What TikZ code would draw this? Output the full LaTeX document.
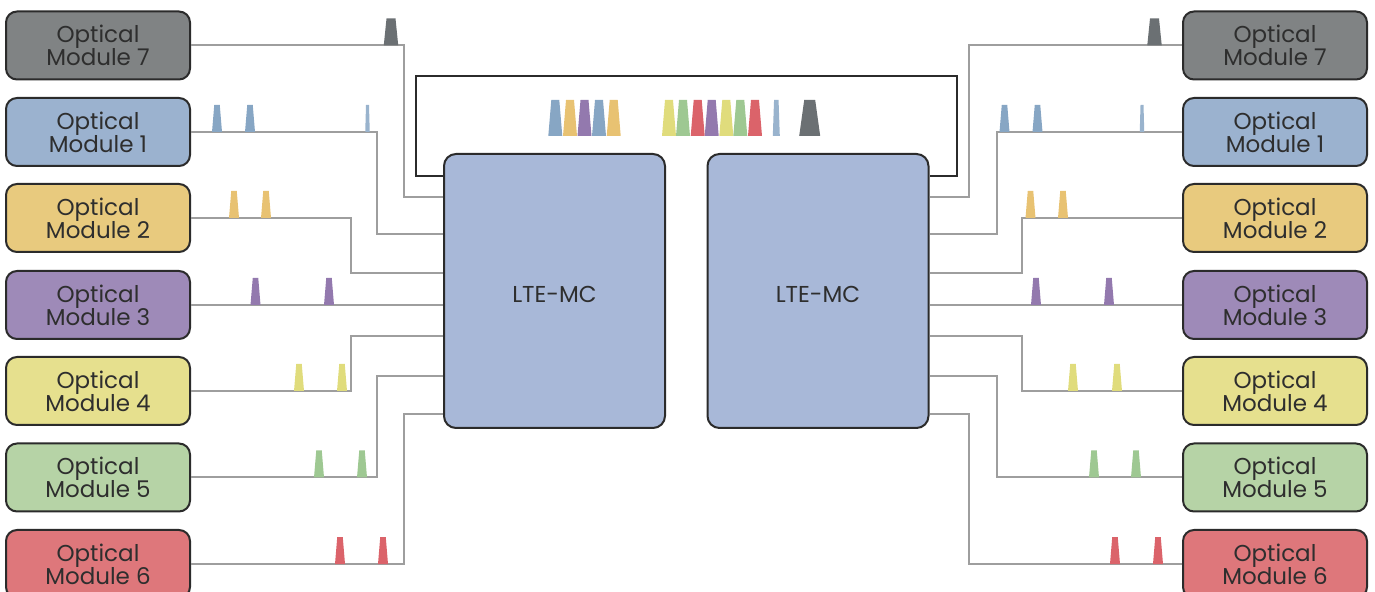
\documentclass[tikz,border=0pt]{standalone}
\usepackage{fontspec}
\setmainfont{Poppins}
\usetikzlibrary{calc}

\definecolor{edge}{HTML}{2B2B2B}
\definecolor{wire}{HTML}{9E9E9E}
\definecolor{label}{HTML}{2E2E2E}
\definecolor{mcfill}{HTML}{A8B8D8}
% module fills
\definecolor{mod7}{HTML}{808384}
\definecolor{mod1}{HTML}{9BB2CF}
\definecolor{mod2}{HTML}{E8CA7E}
\definecolor{mod3}{HTML}{9E8AB8}
\definecolor{mod4}{HTML}{E6E08E}
\definecolor{mod5}{HTML}{B6D3A6}
\definecolor{mod6}{HTML}{DE777B}
% pulse colours
\definecolor{pgrey}{HTML}{6B7073}
\definecolor{pblue}{HTML}{87A6C4}
\definecolor{pyellow}{HTML}{E8C272}
\definecolor{ppurple}{HTML}{9379AE}
\definecolor{plime}{HTML}{E0DC7C}
\definecolor{pgreen}{HTML}{9EC892}
\definecolor{pred}{HTML}{DB636A}

% colour, x, base y, height, bottom width, top width
\newcommand\fiberpulse[6]{%
  \fill[#1] ({#2-#5/2},#3) -- ({#2-#6/2},{#3-#4}) -- ({#2+#6/2},{#3-#4})
    -- ({#2+#5/2},#3) -- cycle;}

\begin{document}
\begin{tikzpicture}[x=0.5pt, y=-0.5pt,
	module/.style = { draw=edge, line width=1pt, rounded corners=5.5pt,
			minimum width=92pt, minimum height=34pt, inner sep=0pt,
			text=label, align=center,
			font=\fontsize{11.5}{11}\selectfont },
	mc/.style = { draw=edge, line width=1pt, rounded corners=6pt,
			fill=mcfill, minimum width=110.5pt, minimum height=137pt,
			text=label, text height=12pt, text depth=0pt,
			font=\fontsize{11.5}{12}\selectfont },
	fiber/.style = { draw=wire, line width=1pt },
	ring/.style = { draw=edge, line width=1pt }]

  \useasboundingbox (0,0) rectangle (1375,592);

  % modules on both sides
  \foreach \m/\y in {7/45.5, 1/132, 2/218, 3/305, 4/391, 5/477.5, 6/564} {
    \node[name=l\m, module, fill=mod\m] at (98,\y) {Optical\\[-1pt]Module \m};
    \node[name=r\m, module, fill=mod\m] at (1275,\y) {Optical\\[-1pt]Module \m};
  }

  \node[name=lteL, mc] at (554.5,291) {LTE-MC};
  \node[name=lteR, mc] at (818,291) {LTE-MC};

  % the link between the two boxes
  \draw[ring] (lteL.west |- 0,176) -| (416,76) -| (957,176) -- (lteR.east |- 0,176);

  % fibres
  \foreach \m/\yin/\xb in {7/197/404, 1/234/377, 2/273/351, 3/305/300,
                           4/336/351, 5/376/377, 6/414/404}
    \draw[fiber] (l\m.east) -| (\xb,\yin) -- (lteL.west |- 0,\yin);
  \foreach \m/\yin/\xb in {7/197/969, 1/234/997, 2/273/1022, 3/305/1100,
                           4/336/1022, 5/376/997, 6/414/969}
    \draw[fiber] (r\m.west) -| (\xb,\yin) -- (lteR.east |- 0,\yin);

  % pulses, left
  \fiberpulse{pgrey}{391}{45.5}{27}{14.5}{9}
  \foreach \x in {217, 250} {\fiberpulse{pblue}{\x}{132}{27}{10}{5.5}}
  \fiberpulse{pblue!85!white}{367.5}{132}{27}{4.5}{3}
  \foreach \x in {234, 266} {\fiberpulse{pyellow}{\x}{218}{27}{10}{5.5}}
  \foreach \x in {255.5, 329} {\fiberpulse{ppurple}{\x}{305}{27}{10}{5.5}}
  \foreach \x in {299, 342} {\fiberpulse{plime}{\x}{391}{27}{10}{5.5}}
  \foreach \x in {319, 362} {\fiberpulse{pgreen}{\x}{477.5}{27}{10}{5.5}}
  \foreach \x in {340, 383} {\fiberpulse{pred}{\x}{564}{27}{10}{5.5}}

  % pulses, right
  \fiberpulse{pgrey}{1154.5}{45.5}{27}{14.5}{9}
  \foreach \x in {1004.5, 1037.5} {\fiberpulse{pblue}{\x}{132}{27}{10}{5.5}}
  \fiberpulse{pblue!85!white}{1142}{132}{27}{4.5}{3}
  \foreach \x in {1030.5, 1063} {\fiberpulse{pyellow}{\x}{218}{27}{10}{5.5}}
  \foreach \x in {1036, 1109} {\fiberpulse{ppurple}{\x}{305}{27}{10}{5.5}}
  \foreach \x in {1073, 1117} {\fiberpulse{plime}{\x}{391}{27}{10}{5.5}}
  \foreach \x in {1094, 1136} {\fiberpulse{pgreen}{\x}{477.5}{27}{10}{5.5}}
  \foreach \x in {1115, 1158} {\fiberpulse{pred}{\x}{564}{27}{10}{5.5}}

  % pulses in the ring
  \foreach \x/\c in {555.3/pblue, 570/pyellow, 584.5/ppurple, 599/pblue,
                     613.7/pyellow, 669/plime, 683/pgreen, 697.7/pred,
                     711.7/ppurple, 726.3/plime, 740.3/pgreen, 755/pred}
    {\fiberpulse{\c}{\x}{136}{36}{14}{8}}
  \fiberpulse{pblue!85!white}{776.3}{136}{36}{7}{4.5}
  \fiberpulse{pgrey}{809.7}{136}{36}{21}{11}
\end{tikzpicture}
\end{document}
